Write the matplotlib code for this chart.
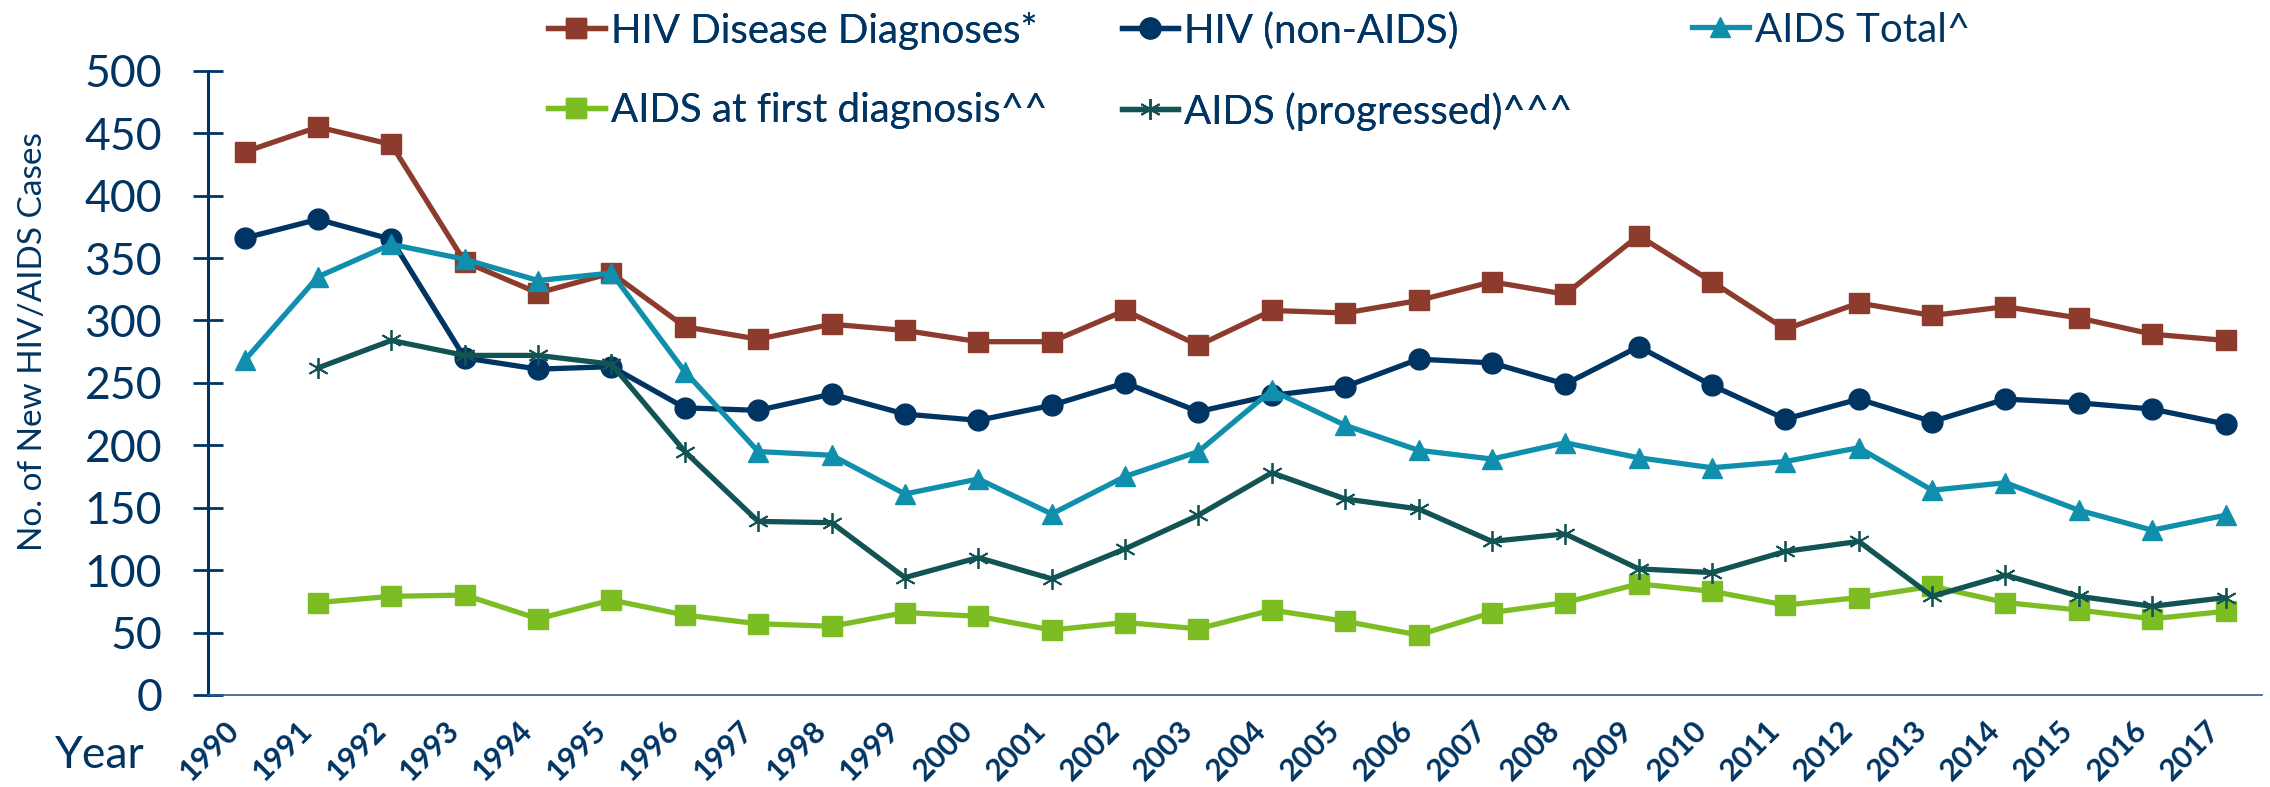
import numpy as np
import matplotlib.pyplot as plt

# data
years = list(range(1990, 2018))
hiv_disease = [435, 455, 441, 347, 322, 338, 295, 285, 297, 292, 283, 283, 308, 280,
               308, 306, 316, 331, 321, 368, 331, 293, 314, 304, 311, 302, 289, 284]
hiv_non_aids = [366, 381, 365, 270, 261, 263, 230, 228, 241, 225, 220, 232, 250, 227,
                240, 247, 269, 266, 249, 279, 248, 221, 237, 219, 237, 234, 229, 217]
aids_total = [268, 335, 361, 349, 332, 338, 259, 195, 192, 161, 173, 145, 175, 195,
              244, 216, 196, 189, 202, 190, 182, 187, 198, 164, 170, 148, 132, 144]
aids_first = [np.nan, 74, 79, 80, 61, 76, 64, 57, 55, 66, 63, 52, 58, 53,
              68, 59, 48, 66, 74, 89, 83, 72, 78, 87, 74, 68, 61, 67]
aids_progressed = [np.nan, 262, 284, 272, 272, 265, 195, 139, 138, 94, 110, 93, 117, 144,
                   178, 157, 149, 123, 129, 101, 98, 115, 123, 79, 96, 79, 71, 78]

navy = '#003462'
plt.rcParams['font.family'] = ['Lato', 'DejaVu Sans']

fig = plt.figure(figsize=(22.7, 7.87), dpi=100)
ax = fig.add_axes([0.0916, 0.117, 0.905, 0.793])

x = np.arange(len(years))
l1, = ax.plot(x, hiv_disease, color='#8C3B2C', lw=3.8, marker='s', ms=14,
              label='HIV Disease Diagnoses*')
l2, = ax.plot(x, hiv_non_aids, color=navy, lw=3.8, marker='o', ms=15,
              label='HIV (non-AIDS)')
l3, = ax.plot(x, aids_total, color='#0F8FAC', lw=3.8, marker='^', ms=15,
              label='AIDS Total^')
l4, = ax.plot(x, aids_first, color='#7CBD24', lw=3.8, marker='s', ms=14,
              label='AIDS at first diagnosis^^')
l5, = ax.plot(x, aids_progressed, color='#125454', lw=3.8, marker=(6, 2, 0), ms=15,
              mew=1.3, label='AIDS (progressed)^^^')

ax.set_xlim(-0.5, 27.5)
ax.set_ylim(0, 500)
ax.set_yticks(range(0, 501, 50))
ax.set_xticks(x)
ax.set_xticklabels([str(y) for y in years], rotation=45, ha='right',
                   fontsize=22, fontweight='bold', color=navy)
ax.tick_params(axis='x', length=0, pad=15)
ax.tick_params(axis='y', direction='inout', length=22, width=2, color=navy,
               labelsize=32, labelcolor=navy, pad=22)

for s in ['top', 'right']:
    ax.spines[s].set_visible(False)
ax.spines['left'].set_color(navy)
ax.spines['left'].set_linewidth(2.2)
ax.spines['bottom'].set_color('#2F5A8E')
ax.spines['bottom'].set_linewidth(1.2)

fig.text(33 / 2270, 1 - 342 / 787, 'No. of New HIV/AIDS Cases', rotation=90,
         ha='center', va='center', fontsize=24, color=navy)
fig.text(55 / 2270, 1 - 768 / 787, 'Year', ha='left', va='baseline',
         fontsize=32, color=navy)

# legend: first two columns, then "AIDS Total^" on its own
leg_kw = dict(loc='upper left', frameon=False, fontsize=29, labelcolor=navy,
              handlelength=1.4, handletextpad=0.15, columnspacing=1.85,
              labelspacing=1.05, borderpad=0.1)
hs = [l1, l4, l2, l5]
leg1 = fig.legend(hs, [h.get_label() for h in hs], ncol=2,
                  bbox_to_anchor=(524 / 2270, 1.016), **leg_kw)
fig.legend([l3], [l3.get_label()], bbox_to_anchor=(1668 / 2270, 1.016), **leg_kw)
fig.add_artist(leg1)

fig.savefig('out.png', dpi=100)
